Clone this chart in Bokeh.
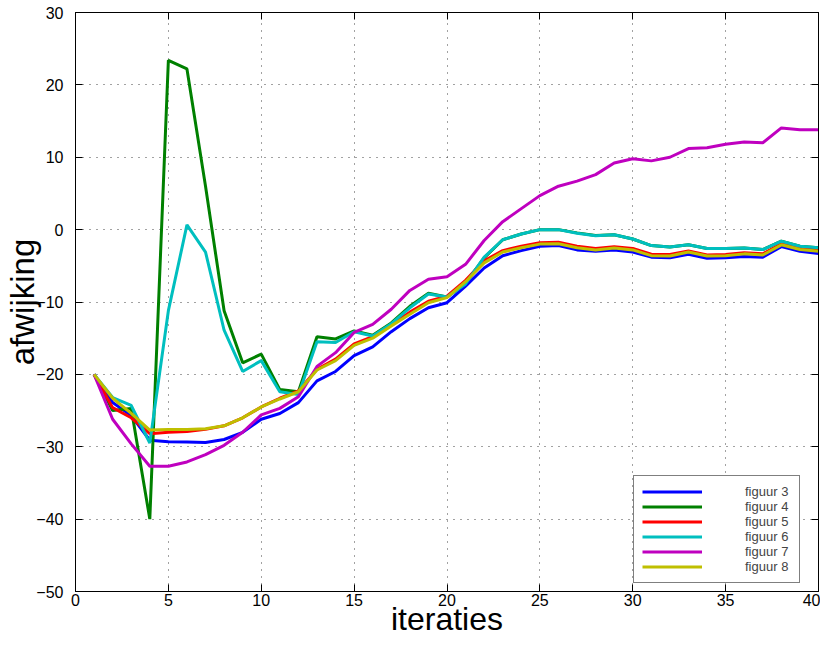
from bokeh.plotting import figure
from bokeh.models import LinearAxis, Legend, LegendItem, FixedTicker, Range1d
from bokeh.embed import file_html
from bokeh.resources import INLINE

iterations = list(range(1, 41))

figuur3 = [-20, -23.9, -25.7, -29.1, -29.3, -29.35, -29.4, -29.0, -28.0, -26.2,
           -25.4, -23.9, -20.9, -19.6, -17.4, -16.2, -14.1, -12.3, -10.8, -10.1,
           -7.8, -5.3, -3.6, -2.9, -2.3, -2.2, -2.8, -3.0, -2.8, -3.1,
           -3.8, -3.9, -3.4, -3.95, -3.9, -3.7, -3.8, -2.35, -3.0, -3.3]
figuur4 = [-20, -25.0, -24.7, -40.0, 23.4, 22.2, 6.0, -11.2, -18.4, -17.2,
           -22.1, -22.4, -14.8, -15.1, -14.0, -14.6, -12.9, -10.6, -8.8, -9.3,
           -7.4, -3.9, -1.4, -0.6, 0.0, 0.0, -0.45, -0.8, -0.7, -1.3,
           -2.2, -2.4, -2.1, -2.6, -2.6, -2.55, -2.75, -1.6, -2.3, -2.5]
figuur5 = [-20, -24.6, -26.0, -28.2, -28.0, -27.9, -27.6, -27.1, -26.0, -24.5,
           -23.3, -22.3, -19.3, -17.9, -15.8, -14.8, -13.1, -11.4, -9.9, -9.2,
           -7.0, -4.3, -2.9, -2.3, -1.8, -1.75, -2.3, -2.6, -2.35, -2.6,
           -3.4, -3.45, -2.95, -3.5, -3.45, -3.2, -3.35, -1.95, -2.6, -2.85]
figuur6 = [-20, -23.2, -24.3, -29.5, -11.2, 0.65, -3.1, -13.9, -19.6, -18.1,
           -22.4, -22.8, -15.5, -15.6, -14.1, -14.7, -13.0, -10.8, -8.9, -9.3,
           -7.5, -3.8, -1.4, -0.6, 0.0, 0.0, -0.5, -0.85, -0.7, -1.3,
           -2.2, -2.4, -2.1, -2.6, -2.6, -2.55, -2.75, -1.6, -2.3, -2.5]
figuur7 = [-20, -26.2, -29.6, -32.7, -32.7, -32.1, -31.1, -29.8, -28.0, -25.6,
           -24.7, -23.1, -18.9, -17.0, -14.2, -13.1, -11.0, -8.4, -6.85, -6.5,
           -4.8, -1.5, 1.1, 2.9, 4.7, 6.0, 6.7, 7.6, 9.2, 9.8,
           9.5, 10.0, 11.2, 11.3, 11.8, 12.1, 12.0, 14.05, 13.8, 13.8]
figuur8 = [-20, -23.3, -25.4, -27.7, -27.6, -27.6, -27.5, -27.1, -26.0, -24.5,
           -23.4, -22.4, -19.4, -18.1, -16.0, -15.0, -13.3, -11.7, -10.1, -9.4,
           -7.2, -4.6, -3.1, -2.5, -2.0, -1.95, -2.5, -2.8, -2.55, -2.8,
           -3.6, -3.65, -3.1, -3.65, -3.6, -3.35, -3.5, -2.1, -2.75, -3.0]

series_names = ["figuur 3", "figuur 4", "figuur 5", "figuur 6", "figuur 7", "figuur 8"]
series_values = [figuur3, figuur4, figuur5, figuur6, figuur7, figuur8]
series_colors = ["#0000FF", "#008000", "#FF0000", "#00BFBF", "#BF00BF", "#BFBF00"]

x_ticks = [0, 5, 10, 15, 20, 25, 30, 35, 40]
y_ticks = [-50, -40, -30, -20, -10, 0, 10, 20, 30]
x_title = "iteraties"
y_title = "afwijking"

FONT = "Liberation Sans"

p = figure(width=820, height=640, output_backend="svg", toolbar_location=None,
           x_range=Range1d(0, 40), y_range=Range1d(-50, 30),
           min_border_left=75, min_border_right=2, min_border_top=12, min_border_bottom=49)
p.outline_line_color = "black"
p.outline_line_width = 1
p.background_fill_color = "white"
p.border_fill_color = "white"

for ax, ticks in ((p.xaxis[0], x_ticks), (p.yaxis[0], y_ticks)):
    ax.ticker = FixedTicker(ticks=ticks)
    ax.major_tick_in = 7
    ax.major_tick_out = 0
    ax.minor_tick_line_color = None
    ax.major_label_text_font = FONT
    ax.major_label_text_font_size = "16px"
    ax.major_label_text_color = "black"
    ax.axis_line_color = "black"
    ax.major_tick_line_color = "black"
    ax.axis_label_text_font = FONT
    ax.axis_label_text_font_style = "normal"
    ax.axis_label_text_color = "black"

p.xaxis.axis_label = x_title
p.yaxis.axis_label = y_title
p.xaxis.axis_label_text_font_size = "32px"
p.yaxis.axis_label_text_font_size = "33px"
p.xaxis.major_label_standoff = 2
p.yaxis.major_label_standoff = 12
p.xaxis.axis_label_standoff = -8
p.yaxis.axis_label_standoff = -8

for loc, ticks in (("right", y_ticks), ("above", x_ticks)):
    ax = LinearAxis(ticker=FixedTicker(ticks=ticks), major_tick_in=7, major_tick_out=0,
                    minor_tick_line_color=None, major_label_text_font_size="0px",
                    major_label_overrides={t: "" for t in ticks},
                    major_label_standoff=0, axis_label_standoff=0,
                    axis_line_color="black")
    p.add_layout(ax, loc)

p.xgrid.ticker = FixedTicker(ticks=x_ticks)
p.ygrid.ticker = FixedTicker(ticks=y_ticks)
for g in (p.xgrid[0], p.ygrid[0]):
    g.grid_line_color = "#444444"
    g.grid_line_dash = "1 6"
    g.grid_line_width = 1

items = []
for name, vals, col in zip(series_names, series_values, series_colors):
    r = p.line(iterations, vals, line_color=col, line_width=3)
    items.append(LegendItem(label=name, renderers=[r]))

legend = Legend(items=items, location=(558, 8), label_text_font=FONT,
                label_text_font_size="13px", glyph_width=60, glyph_height=15,
                label_height=15, spacing=0, label_standoff=43, padding=8,
                margin=0, border_line_color="black", border_line_width=1,
                background_fill_alpha=1.0, label_width=46)
p.add_layout(legend, "center")

open("out.html", "w").write(file_html(p, INLINE))
